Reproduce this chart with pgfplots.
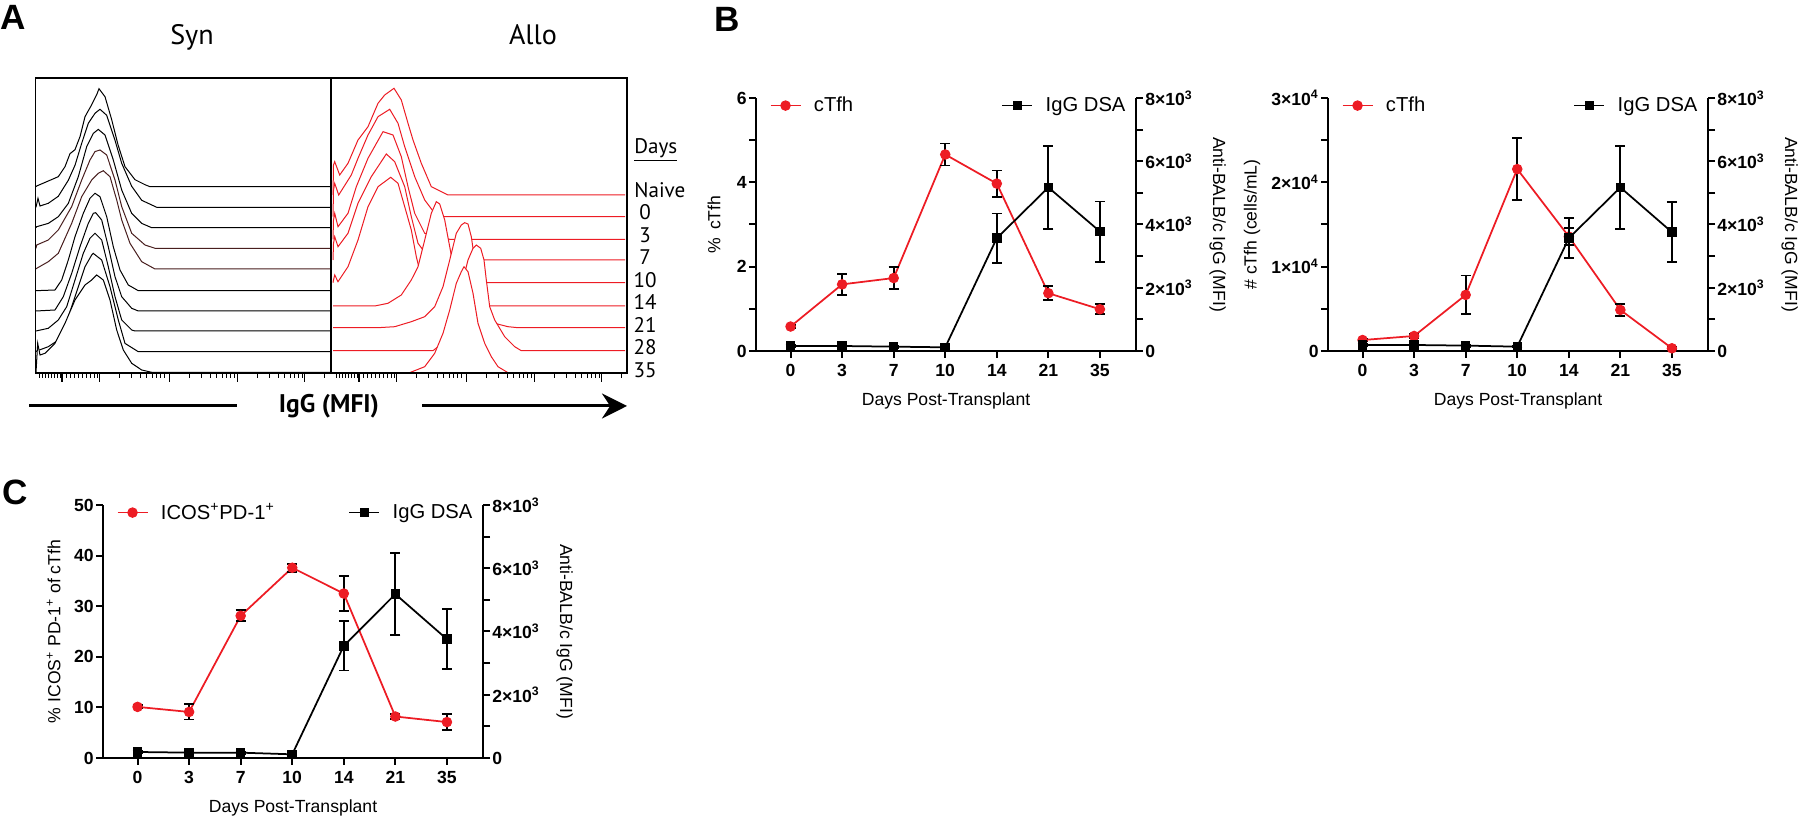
\documentclass[border=0pt]{standalone}
\usepackage{pgfplots}
\pgfplotsset{compat=1.18}
\usepackage{fontspec}
\setmainfont{Liberation Sans}
\newfontfamily\myriad{PT Sans}
\usetikzlibrary{arrows.meta}
\definecolor{pred}{RGB}{237,28,36}
\definecolor{brn}{RGB}{72,30,30}

\pgfplotsset{
  dualbase/.style={
    scale only axis, width=76mm, height=50.6mm,
    xmin=-0.67, xmax=6.7, ymin=0,
    tick align=outside, major tick length=1.4mm, minor tick length=1.4mm,
    axis line style={line width=0.4mm},
    every tick/.append style={line width=0.4mm, black},
    tick label style={font=\fontsize{10}{11}\selectfont\bfseries},
    label style={font=\fontsize{11.5}{13}\selectfont},
    clip=false, scaled y ticks=false,
    legend style={draw=none, fill=none, inner sep=0pt, font=\fontsize{11.5}{13}\selectfont,
      /tikz/every odd column/.append style={column sep=1.8mm}},
    legend cell align=left,
  },
  leftax/.style={dualbase, axis y line*=left, axis x line*=bottom,
    xtick={0,...,6}, xticklabels={0,3,7,10,14,21,35},
    xlabel={Days Post-Transplant},
    every axis x label/.style={at={(axis description cs:0.5,-0.198)}, anchor=center},
    yticklabel style={inner xsep=0.4mm},
    legend style={at={(axis description cs:0.035,0.97)}, anchor=west},
  },
  rightax/.style={dualbase, axis y line*=right, axis x line=none,
    ymax=8000, ytick={0,2000,4000,6000,8000},
    yticklabels={0,2×10\textsuperscript{3},4×10\textsuperscript{3},6×10\textsuperscript{3},8×10\textsuperscript{3}},
    minor ytick={1000,3000,5000,7000},
    ylabel={Anti-BALB/c IgG (MFI)},
    every axis y label/.style={at={(axis description cs:1.215,0.5)}, anchor=center, rotate=-90},
    yticklabel style={inner xsep=0.4mm},
    legend style={at={(axis description cs:0.645,0.97)}, anchor=west},
  },
  redser/.style={pred, line width=0.35mm, mark=*, mark size=0.95mm,
    mark options={fill=pred, draw=pred, line width=0.2mm},
    error bars/.cd, y dir=both, y explicit,
    error bar style={line width=0.38mm, black},
    error mark options={rotate=90, line width=0.38mm, black, mark size=1mm}},
  blkser/.style={black, line width=0.35mm, mark=square*, mark size=0.85mm,
    mark options={fill=black, draw=black, line width=0.2mm},
    error bars/.cd, y dir=both, y explicit,
    error bar style={line width=0.38mm, black},
    error mark options={rotate=90, line width=0.38mm, black, mark size=1mm}},
  blkcurve/.style={draw=black, fill=white, line width=0.2mm},
  brncurve/.style={draw=brn, fill=white, line width=0.2mm},
  redcurve/.style={draw=pred, fill=white, line width=0.2mm},
}

\begin{document}
\begin{tikzpicture}
\useasboundingbox (0,0) rectangle (360mm,164mm);

% ---------------- Panel A ----------------
\begin{axis}[at={(7.1mm,89.4mm)}, anchor=south west, scale only axis,
  width=118.3mm, height=59mm, xmin=35.5, xmax=627, ymin=78, ymax=373,
  y dir=reverse, xtick=\empty, ytick=\empty, axis on top,
  axis line style={line width=0.22mm}]
% Syn (black), back to front
\addplot[blkcurve] coordinates {(36,186.7) (36.7,186) (46.7,181.7) (58.3,176.7) (65,166.7) (70,153.7) (75,149.7) (80,136.7) (85,116.7) (91.7,104.7) (96.7,94.7) (99,88.7) (105,96.7) (111.7,119.7) (118,144.7) (125,166.7) (135,179.7) (145,184.7) (150,186.7) (330,186.7)};
\addplot[blkcurve] coordinates {(36,207.3) (38,198.3) (40,206) (48.3,203.3) (58.3,196.3) (68.3,180.3) (75,165.3) (81.7,143.3) (88.3,123.3) (95,113.3) (100,109.3) (106.7,115.3) (115,140.3) (121.7,163.3) (131.7,186.3) (141.7,200.3) (156.7,207.3) (330,207.3)};
\addplot[blkcurve] coordinates {(36,227.7) (36.7,226.7) (48.3,223.4) (58.3,216.7) (68.3,203.4) (78.3,176.7) (86.7,146.7) (93.3,133.4) (98.3,129.4) (105,135) (113.3,160) (121.7,190) (131.7,213.4) (141.7,223.4) (151.7,227.7) (330,227.7)};
\addplot[brncurve] coordinates {(36,248.3) (36.7,245) (48.3,240) (58.3,230) (71.7,206.6) (81.7,180) (90,160) (95,151.6) (100,150) (106.7,155) (115,180) (121.7,206.6) (131.7,233.3) (145,245) (155,248.3) (330,248.3)};
\addplot[brncurve] coordinates {(36,269) (36.7,268.3) (48.3,261.7) (58.3,253.3) (71.7,223.3) (81.7,196.7) (91.7,180) (98.3,173.3) (103.3,170.7) (110,176.7) (116.7,200) (121.7,220) (130,243.3) (141.7,261.7) (155,269) (330,269)};
\addplot[blkcurve] coordinates {(36,290.7) (55,290) (61.7,280) (68.3,260) (75,236.7) (83.3,213.3) (90,198.3) (95,193.3) (100,196.7) (106.7,216.7) (113.3,246.7) (120,270) (128.3,285) (138.3,290.7) (330,290.7)};
\addplot[blkcurve] coordinates {(36,311) (55,310) (63.3,296.7) (71.7,273.3) (80,246.7) (88.3,223.3) (93.3,213.3) (95.7,212.7) (101.7,220) (108.3,246.7) (115,276.7) (121.7,296.7) (131.7,308.3) (138.3,311) (330,311)};
\addplot[blkcurve] coordinates {(36,331) (48.3,328.3) (58.3,320) (66.7,306.7) (75,280) (83.3,253.3) (90,238.3) (95,233.3) (101.7,240) (108.3,266.7) (115,296.7) (121.7,320) (131.7,330) (135,331) (330,331)};
\addplot[blkcurve] coordinates {(36,351.7) (36.7,351) (48.3,346.7) (58.3,340) (65,326.7) (75,296.7) (85,266.7) (91.7,255) (93.3,253.4) (101.7,260) (110,286.7) (118.3,320) (125,343.4) (138.3,351.7) (330,351.7)};
\addplot[blkcurve] coordinates {(36,372.3) (37.7,343.3) (40,355) (45,353.3) (55,343.3) (65,323.3) (75,300) (85,285) (91.7,280) (96.7,275) (103.3,280) (110,300) (116.7,330) (123.3,350) (131.7,363.3) (141.7,370) (151.7,372.3) (330,372.3)};
% Allo (red), back to front
\addplot[redcurve] coordinates {(333,195) (333.5,165) (334.7,161.7) (339.7,175) (348,163.3) (358,140) (368,126.7) (378,103.3) (384.7,95) (394,88.3) (401.3,100) (408,123.3) (413,140) (421.3,163.3) (431.3,186.7) (448,195) (625,195)};
\addplot[redcurve] coordinates {(333,216.7) (333.5,190) (334.7,183.3) (338.7,195) (351.3,175) (358,158.3) (368,135) (378,116.7) (389.7,109.3) (398,123.3) (404.7,146.7) (414.7,176.7) (424.7,200) (434.7,213.3) (443,216.7) (625,216.7)};
\addplot[redcurve] coordinates {(333,239.3) (333.5,220) (334.7,213.3) (338,226.7) (348,213.3) (356.3,186.7) (368,158.3) (383,131.7) (393,135) (401.3,156.7) (408,186.7) (414.7,213.3) (424.7,233.3) (449.7,239.3) (625,239.3)};
\addplot[redcurve] coordinates {(333,260) (333.5,243.3) (334.7,236.7) (338,246.7) (348,233.3) (358,203.3) (371.3,176.7) (386.3,154) (394.7,161.7) (404.7,186.7) (411.3,216.7) (418,243.3) (428,256.7) (440,260) (625,260)};
\addplot[redcurve] coordinates {(333,282.7) (333.5,280) (334.7,275) (338,281.7) (348,266.7) (358,240) (368,206.7) (378,186.7) (390.7,177.3) (398,183.3) (404.7,206.7) (411.3,230) (416.3,256.7) (421.3,276.7) (428,282.7) (625,282.7)};
\addplot[redcurve] coordinates {(333,306) (374.7,306) (388,303.3) (401.3,295) (411.3,280) (418,266.7) (424.7,240) (431.3,213.3) (436.3,201.7) (439.7,204) (444.7,220) (449.7,246.7) (454.7,273.3) (461.3,293.3) (471.3,303.3) (489.7,306) (625,306)};
\addplot[redcurve] coordinates {(333,327.7) (378,327.7) (394.7,326.7) (411.3,321.7) (424.7,316.7) (434.7,306.7) (443,286.7) (449.7,260) (456.3,233.3) (461.3,225) (464.7,222.7) (468,224) (471.3,236.7) (474.7,260) (479.7,286.7) (486.3,310) (494.7,323.3) (508,326.7) (518,327.7) (625,327.7)};
\addplot[redcurve] coordinates {(333,350.7) (433,350.7) (438,346.7) (444.7,333.3) (453,313.3) (461.3,286.7) (468,260) (473,248.3) (476.3,245) (480.7,248.3) (484,260) (486.3,280) (489.7,306.7) (494.7,320) (504.7,336.7) (514.7,346.7) (521.3,350.7) (625,350.7)};
\addplot[redcurve] coordinates {(333,373.3) (408,373.3) (424.7,366.7) (434.7,353.3) (443,333.3) (449.7,310) (456.3,283.3) (461.3,271.7) (464,266.7) (468,271.7) (473,293.3) (478,323.3) (484.7,343.3) (491.3,356.7) (498,366.7) (508,372.7) (518,373.3) (625,373.3)};
\draw[line width=0.3mm] (axis cs:331,78) -- (axis cs:331,373);
\end{axis}

% bottom ticks of panel A
\foreach \t in {39,42,45,48,51,54,57,60,66,70,74,78,82,86,90,94,97,
  119.5,131.4,139.9,146.5,151.9,156.5,160.4,163.9,
  189.5,201.4,209.9,216.5,221.9,226.5,230.4,233.9,
  257.5,269.4,277.9,284.5,289.9,294.5,298.4,301.9,324.5,
  336,339,342,345,348,351,354,357,363,367,371,375,379,383,387,391,394,
  416.5,428.4,436.9,443.5,448.9,453.5,457.4,460.9,
  486.5,498.4,506.9,513.5,518.9,523.5,527.4,530.9,
  554.5,566.4,574.9,581.5,586.9,591.5,595.4,598.9,621.5}
  \draw[line width=0.12mm] (\t*0.2mm,89.4mm) -- ++(0,-1mm);
\foreach \t in {99,169,237,304,396,466,534,601}
  \draw[line width=0.15mm] (\t*0.2mm,89.4mm) -- ++(0,-1.8mm);
\foreach \t in {62,359}
  \draw[line width=0.5mm] (\t*0.2mm,89.4mm) -- ++(0,-1.8mm);

% panel A texts
\node[anchor=base west, font=\fontsize{20}{22}\selectfont\bfseries, inner sep=0pt] at (0mm,158mm) {A};
\node[anchor=base, font=\myriad\fontsize{16}{18}\selectfont, inner sep=0pt] at (38.4mm,155mm) {Syn};
\node[anchor=base, font=\myriad\fontsize{16}{18}\selectfont, inner sep=0pt] at (106.6mm,155mm) {Allo};
\node[anchor=center, font=\myriad\fontsize{14.5}{16}\selectfont\bfseries, inner sep=0pt] at (65.8mm,82.8mm) {IgG (MFI)};
\draw[line width=0.6mm] (5.8mm,82.8mm) -- (47.4mm,82.8mm);
\draw[line width=0.6mm, -{Stealth[length=5mm,width=5mm]}] (84.4mm,82.8mm) -- (125.4mm,82.8mm);
\begin{scope}[every node/.style={font=\myriad\fontsize{12}{13}\selectfont, inner sep=0pt}]
\node[anchor=base west] at (126.8mm,133.3mm) {\underline{Days}};
\node[anchor=base west] at (126.8mm,124.5mm) {Naive};
\node[anchor=base] at (129mm,120.1mm) {0};
\node[anchor=base] at (129mm,115.5mm) {3};
\node[anchor=base] at (129mm,111.1mm) {7};
\node[anchor=base] at (129mm,106.5mm) {10};
\node[anchor=base] at (129mm,102.1mm) {14};
\node[anchor=base] at (129mm,97.5mm) {21};
\node[anchor=base] at (129mm,93.1mm) {28};
\node[anchor=base] at (129mm,88.5mm) {35};
\end{scope}

% ---------------- Panel B (left) ----------------
\node[anchor=base west, font=\fontsize{20}{22}\selectfont\bfseries, inner sep=0pt] at (142.8mm,157.6mm) {B};
\begin{axis}[leftax, at={(151.2mm,93.8mm)}, anchor=south west,
  ymax=6, ytick={0,2,4,6}, yticklabels={0,2,4,6}, minor ytick={1,3,5},
  ylabel={\%\, cTfh},
  every axis y label/.style={at={(axis description cs:-0.11,0.5)}, anchor=center, rotate=90}]
\addplot[redser] table[x=x,y=y,y error=e]{
x y e
0 0.58 0.03
1 1.58 0.25
2 1.73 0.27
3 4.66 0.26
4 3.97 0.31
5 1.37 0.17
6 0.99 0.12
};
\addlegendentry{cTfh}
\end{axis}
\begin{axis}[rightax, at={(151.2mm,93.8mm)}, anchor=south west]
\addplot[blkser] table[x=x,y=y,y error=e]{
x y e
0 158 30
1 158 30
2 137 30
3 116 20
4 3567 780
5 5172 1310
6 3778 950
};
\addlegendentry{IgG DSA}
\end{axis}

% ---------------- Panel B (right) ----------------
\begin{axis}[leftax, at={(265.6mm,93.8mm)}, anchor=south west,
  ymax=30000, ytick={0,10000,20000,30000},
  yticklabels={0,1×10\textsuperscript{4},2×10\textsuperscript{4},3×10\textsuperscript{4}},
  minor ytick={5000,15000,25000},
  ylabel={\# cTfh (cells/mL)},
  every axis y label/.style={at={(axis description cs:-0.2,0.5)}, anchor=center, rotate=90}]
\addplot[redser] table[x=x,y=y,y error=e]{
x y e
0 1300 100
1 1780 200
2 6650 2300
3 21570 3700
4 13570 1000
5 4870 750
6 320 100
};
\addlegendentry{cTfh}
\end{axis}
\begin{axis}[rightax, at={(265.6mm,93.8mm)}, anchor=south west]
\addplot[blkser] table[x=x,y=y,y error=e]{
x y e
0 190 30
1 190 30
2 170 30
3 137 20
4 3567 635
5 5172 1310
6 3757 950
};
\addlegendentry{IgG DSA}
\end{axis}

% ---------------- Panel C ----------------
\node[anchor=base west, font=\fontsize{20}{22}\selectfont\bfseries, inner sep=0pt] at (0.4mm,63mm) {C};
\begin{axis}[leftax, at={(20.6mm,12.4mm)}, anchor=south west,
  ymax=50, ytick={0,10,20,30,40,50}, yticklabels={0,10,20,30,40,50},
  ylabel={\% ICOS\textsuperscript{+} PD-1\textsuperscript{+} of cTfh},
  every axis y label/.style={at={(axis description cs:-0.13,0.5)}, anchor=center, rotate=90}]
\addplot[redser] table[x=x,y=y,y error=e]{
x y e
0 10.1 0.3
1 9.1 1.5
2 28.1 1.1
3 37.6 0.8
4 32.5 3.5
5 8.2 0.5
6 7.1 1.6
};
\addlegendentry{ICOS\textsuperscript{+}PD-1\textsuperscript{+}}
\end{axis}
\begin{axis}[rightax, at={(20.6mm,12.4mm)}, anchor=south west]
\addplot[blkser] table[x=x,y=y,y error=e]{
x y e
0 190 30
1 169 30
2 169 30
3 116 20
4 3546 780
5 5182 1300
6 3757 955
};
\addlegendentry{IgG DSA}
\end{axis}
\end{tikzpicture}
\end{document}
